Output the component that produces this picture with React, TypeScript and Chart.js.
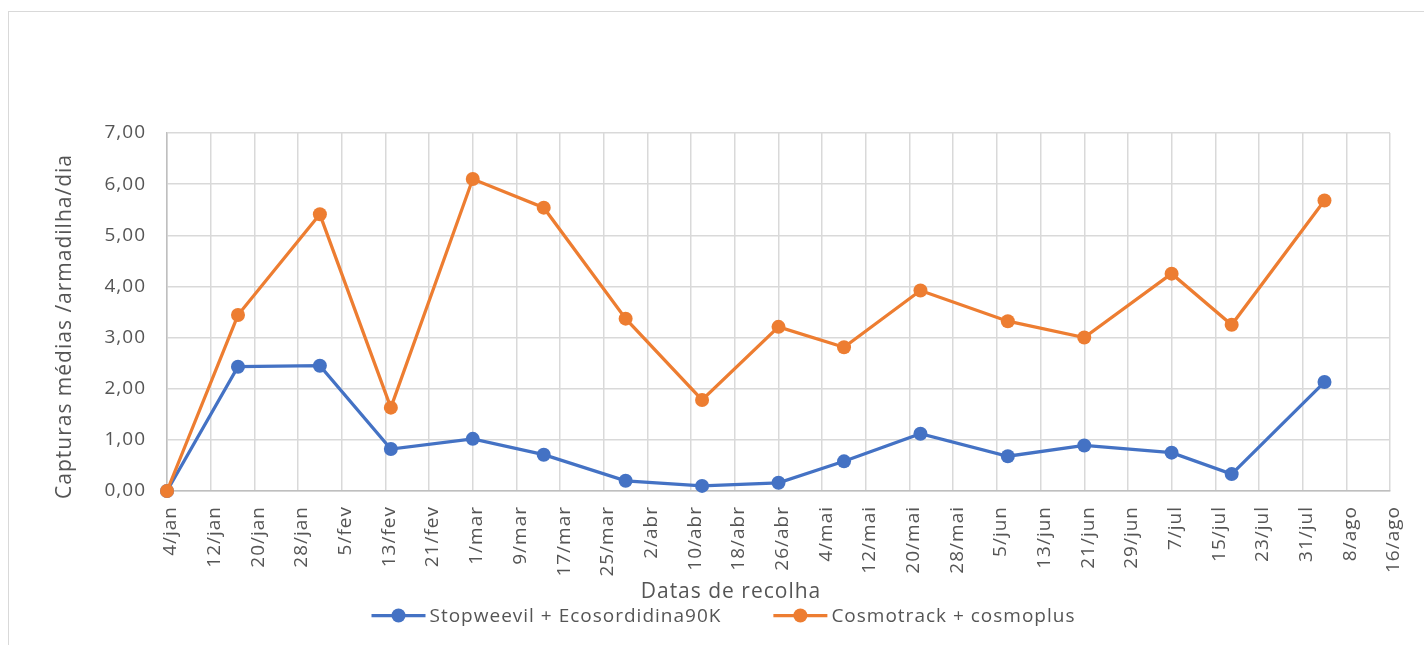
import React, { useEffect, useRef } from "react";
import { Chart, registerables } from "chart.js";

Chart.register(...registerables);

// ---- data ----
const collectionDates = [
  "2021-01-04", "2021-01-17", "2021-02-01", "2021-02-14", "2021-03-01", "2021-03-14",
  "2021-03-29", "2021-04-12", "2021-04-26", "2021-05-08", "2021-05-22", "2021-06-07",
  "2021-06-21", "2021-07-07", "2021-07-18", "2021-08-04",
];
const stopweevilValues = [0, 2.43, 2.45, 0.82, 1.02, 0.71, 0.2, 0.1, 0.16, 0.58, 1.12, 0.68, 0.89, 0.75, 0.33, 2.13];
const cosmotrackValues = [0, 3.44, 5.41, 1.63, 6.1, 5.54, 3.37, 1.78, 3.21, 2.81, 3.92, 3.32, 3.0, 4.25, 3.25, 5.68];
const seriesNames = ["Stopweevil + Ecosordidina90K", "Cosmotrack + cosmoplus"];
const seriesColors = ["#4472C4", "#ED7D31"];
const monthNames = ["jan", "fev", "mar", "abr", "mai", "jun", "jul", "ago", "set", "out", "nov", "dez"];
const axisStartDate = "2021-01-04";
const axisEndDate = "2021-08-16";
const tickStepDays = 8;
const yMin = 0;
const yMax = 7;
const yStep = 1;
const yTitle = "Capturas médias /armadilha/dia";
const xTitle = "Datas de recolha";

const DAY = 86400000;
const toUTC = (iso: string) => {
  const [y, m, d] = iso.split("-").map(Number);
  return Date.UTC(y, m - 1, d);
};
const startMs = toUTC(axisStartDate);
const dayIndex = (iso: string) => Math.round((toUTC(iso) - startMs) / DAY);
const dayLabel = (v: number) => {
  const dt = new Date(startMs + v * DAY);
  return `${dt.getUTCDate()}/${monthNames[dt.getUTCMonth()]}`;
};

const FONT = "'Open Sans', 'Noto Sans', sans-serif";
const TEXT = "#555555";
const GRID = "#d9d9d9";
const SPACING = "1px";

const overlayPlugin = {
  id: "overlayTexts",
  beforeDraw(chart: any) {
    chart.ctx.letterSpacing = SPACING;
  },
  afterDraw(chart: any) {
    const ctx = chart.ctx as CanvasRenderingContext2D;
    ctx.save();
    (ctx as any).letterSpacing = SPACING;
    ctx.fillStyle = TEXT;
    ctx.font = `21px ${FONT}`;
    // y title
    ctx.save();
    ctx.translate(65, 326.5);
    ctx.rotate(-Math.PI / 2);
    ctx.textAlign = "center";
    ctx.textBaseline = "middle";
    ctx.fillText(yTitle, 0, 0);
    ctx.restore();
    // x title
    ctx.textAlign = "center";
    ctx.textBaseline = "alphabetic";
    ctx.fillText(xTitle, 731, 597.5);
    // legend
    ctx.font = `19px ${FONT}`;
    ctx.textAlign = "left";
    const lineLen = 54;
    const gapText = 4;
    const gapItem = 52;
    const ds = chart.data.datasets;
    const widths = ds.map((d: any) => ctx.measureText(d.label).width);
    const total = widths.reduce((a: number, w: number) => a + lineLen + gapText + w, 0) + gapItem * (ds.length - 1);
    let x = 723.5 - total / 2;
    const ly = 615.5;
    ds.forEach((d: any, i: number) => {
      ctx.strokeStyle = d.borderColor;
      ctx.lineWidth = 3.25;
      ctx.beginPath();
      ctx.moveTo(x, ly);
      ctx.lineTo(x + lineLen, ly);
      ctx.stroke();
      ctx.fillStyle = d.backgroundColor;
      ctx.beginPath();
      ctx.arc(x + lineLen / 2, ly, 7, 0, Math.PI * 2);
      ctx.fill();
      ctx.fillStyle = TEXT;
      ctx.fillText(d.label, x + lineLen + gapText, 621.5);
      x += lineLen + gapText + widths[i] + gapItem;
    });
    ctx.restore();
  },
};

export default function App() {
  const ref = useRef<HTMLCanvasElement | null>(null);

  useEffect(() => {
    if (!ref.current) return;
    const xs = collectionDates.map(dayIndex);
    const makeData = (vals: number[]) => vals.map((v, i) => ({ x: xs[i], y: v }));
    const common = {
      borderWidth: 3.25,
      pointRadius: 7,
      pointHoverRadius: 7,
      pointBorderWidth: 0,
      tension: 0,
      clip: false as any,
    };
    const chart = new Chart(ref.current, {
      type: "line",
      data: {
        datasets: [
          {
            label: seriesNames[0],
            data: makeData(stopweevilValues),
            borderColor: seriesColors[0],
            backgroundColor: seriesColors[0],
            order: 1,
            ...common,
          },
          {
            label: seriesNames[1],
            data: makeData(cosmotrackValues),
            borderColor: seriesColors[1],
            backgroundColor: seriesColors[1],
            order: 0,
            ...common,
          },
        ],
      },
      options: {
        animation: false,
        responsive: false,
        devicePixelRatio: 1,
        layout: { padding: { left: 0, top: 133, right: 34, bottom: 0 } },
        plugins: {
          legend: { display: false },
          tooltip: { enabled: false },
          title: { display: false },
        },
        scales: {
          x: {
            type: "linear",
            min: 0,
            max: dayIndex(axisEndDate),
            ticks: {
              stepSize: tickStepDays,
              maxTicksLimit: 60,
              autoSkip: false,
              minRotation: 90,
              maxRotation: 90,
              padding: 15,
              labelOffset: 4,
              color: TEXT,
              font: { family: FONT, size: 19 },
              callback: (v: any) => dayLabel(Number(v)),
            },
            grid: { color: GRID, lineWidth: 1.5, drawTicks: false },
            border: { color: "#bfbfbf", width: 1.5 },
            afterFit: (s: any) => {
              s.height = 154;
              s.paddingLeft = 0;
              s.paddingRight = 0;
            },
          },
          y: {
            min: yMin,
            max: yMax,
            ticks: {
              stepSize: yStep,
              padding: 21,
              color: TEXT,
              font: { family: FONT, size: 19 },
              callback: (v: any) => Number(v).toFixed(2).replace(".", ","),
            },
            grid: { color: GRID, lineWidth: 1.5, drawTicks: false },
            border: { color: "#bfbfbf", width: 1.5 },
            afterFit: (s: any) => {
              s.width = 167;
            },
          },
        },
      },
      plugins: [overlayPlugin],
    });
    return () => chart.destroy();
  }, []);

  return (
    <div style={{ position: "absolute", left: 0, top: 0, width: 1424, height: 645, overflow: "hidden", background: "#fff" }}>
      <div
        style={{
          position: "absolute",
          left: 8,
          top: 11,
          width: 1500,
          height: 700,
          border: "1.5px solid #d9d9d9",
        }}
      />
      <canvas ref={ref} width={1424} height={645} style={{ position: "absolute", left: 0, top: 0 }} />
    </div>
  );
}
